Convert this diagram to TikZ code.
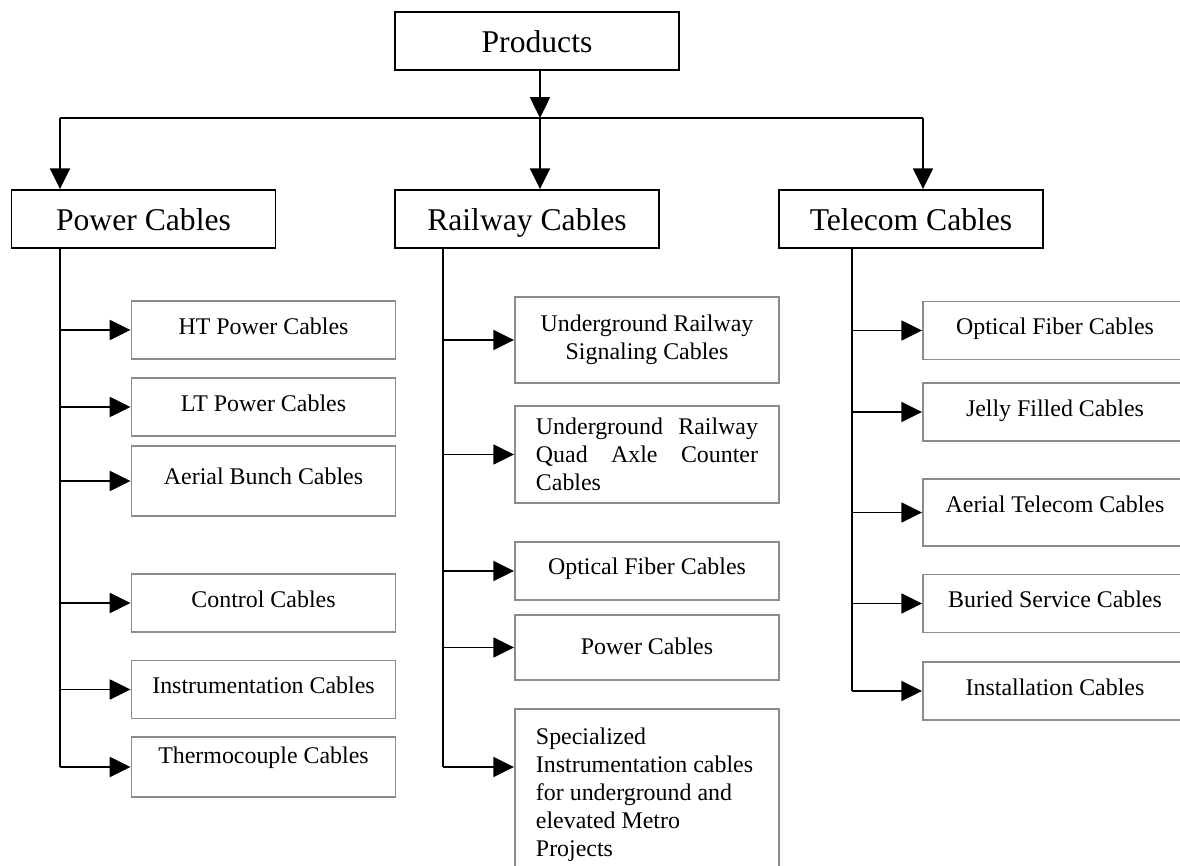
\documentclass[tikz,border=0pt]{standalone}
\usepackage{fontspec}
\setmainfont{Liberation Serif}
\usetikzlibrary{arrows.meta, positioning}

\newcommand{\catfont}{\fontsize{22.5}{26}\selectfont}
\newcommand{\itemfont}{\fontsize{17}{19.9}\selectfont}

\begin{document}
\begin{tikzpicture}[
    x=0.025cm, y=-0.025cm,
    cat/.style={draw, line width=1.3pt, minimum height=1.45cm, minimum width=6.6cm,
                align=center, font=\catfont, inner sep=0pt, text height=0.59cm, text depth=0pt},
    item/.style={draw=black!45, line width=1.3pt, minimum height=1.45cm, minimum width=6.6cm,
                 align=center, font=\itemfont, inner sep=0pt, text height=0.42cm, text depth=0.2cm},
    multi/.style={item, text height=, text depth=},
    para/.style={multi, text width=5.55cm, inner xsep=0.525cm, align=flush left},
    arr/.style={-{Triangle[length=5.2mm, width=5mm]}, line width=1.3pt},
    wire/.style={line width=1.3pt}
]
\clip (0,0) rectangle (1180,866);

\node[cat, minimum width=7.1cm] (prod) at (537,41) {Products};

\node[cat] (pwr)  at (143.5,219) {Power Cables};
\node[cat] (rail) at (527,219)   {Railway Cables};
\node[cat] (tel)  at (911,219)   {Telecom Cables};

% power cables
\node[item] (ht)  at (263.5,330)   {HT Power Cables};
\node[item] (lt)  at (263.5,407)   {LT Power Cables};
\node[item, minimum height=1.75cm, text depth=0.27cm] (abc) at (263.5,481) {Aerial Bunch Cables};
\node[item] (ctl) at (263.5,603)   {Control Cables};
\node[item] (ins) at (263.5,689.5) {Instrumentation Cables};
\node[item, minimum height=1.5cm, text depth=0.6cm] (tc) at (263.5,767) {Thermocouple Cables};

% railway cables
\node[multi, minimum height=2.15cm] (sig) at (647,340) {Underground Railway\\Signaling Cables};
\node[para, minimum height=2.425cm] (quad) at (647,454.5)
    {Underground\hfill Railway\\Quad\hfill Axle\hfill Counter\\Cables};
\node[item, text depth=0.27cm] (rof) at (647,571) {Optical Fiber Cables};
\node[item, minimum height=1.625cm, text depth=0.05cm] (rpc) at (647,647.5) {Power Cables};
\node[para, minimum height=4.275cm] (spec) at (647,794.5)
    {Specialized\\Instrumentation cables\\for underground and\\elevated Metro\\Projects};

% telecom cables
\node[item] (tof)  at (1055,330.5) {Optical Fiber Cables};
\node[item] (jel)  at (1055,412)   {Jelly Filled Cables};
\node[item, minimum height=1.675cm, text depth=0.4cm] (atc) at (1055,512.5) {Aerial Telecom Cables};
\node[item] (bsc)  at (1055,603.5) {Buried Service Cables};
\node[item] (inst) at (1055,691)   {Installation Cables};

% bus from Products
\coordinate (busL) at (60,118);
\coordinate (busM) at (540,118);
\coordinate (busR) at (923,118);
\draw[wire] (busL) -- (busR);
\draw[arr] (prod.south -| busM) -- (busM);
\draw[arr] (busL) -- (busL |- pwr.north);
\draw[arr] (busM) -- (busM |- rail.north);
\draw[arr] (busR) -- (busR |- tel.north);

% trunks
\coordinate (railT) at (443,248);
\coordinate (telT)  at (852,248);
\draw[wire] (busL |- pwr.south) -- (busL |- tc.west);
\draw[wire] (railT) -- (railT |- 0,767);
\draw[wire] (telT) -- (telT |- inst.west);

\foreach \c in {ht, lt, abc, ctl, ins, tc}
    \draw[arr] (busL |- \c.west) -- (\c.west);
\foreach \c in {sig, quad, rof, rpc}
    \draw[arr] (railT |- \c.west) -- (\c.west);
\draw[arr] (railT |- 0,767) -- (spec.west |- 0,767);
\foreach \c in {tof, jel, atc, bsc, inst}
    \draw[arr] (telT |- \c.west) -- (\c.west);

\end{tikzpicture}
\end{document}
